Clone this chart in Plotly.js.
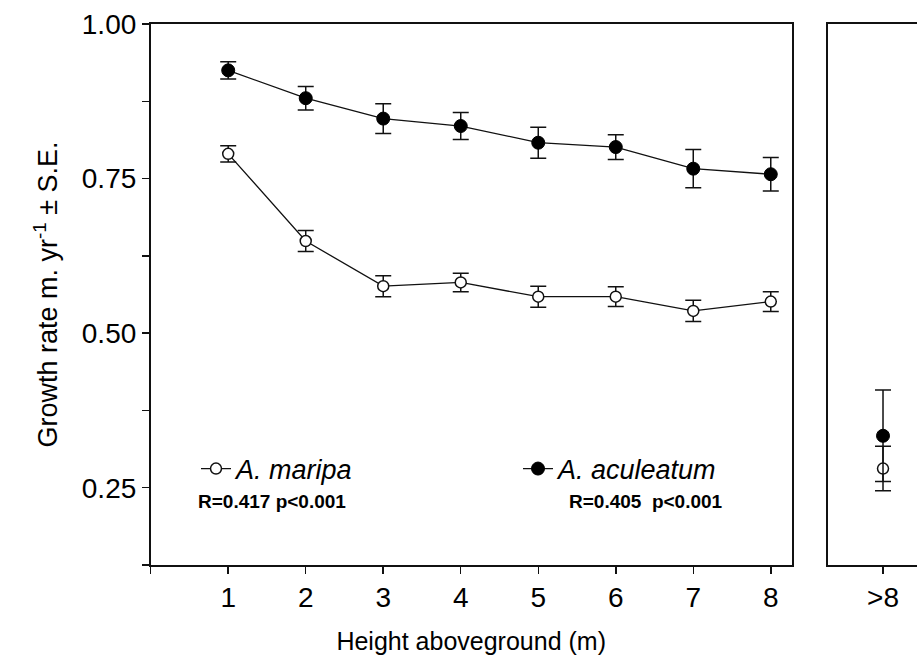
<!DOCTYPE html>
<html>
<head>
<meta charset="utf-8">
<script src="https://cdn.plot.ly/plotly-3.0.1.min.js"></script>
<style>html,body{margin:0;padding:0;background:#fff;overflow:hidden;}#chart{width:917px;height:671px;}</style>
</head>
<body>
<div id="chart"></div>
<script>
// Data
const heights = [1, 2, 3, 4, 5, 6, 7, 8];
const maripaMean = [0.790, 0.649, 0.576, 0.582, 0.559, 0.559, 0.536, 0.551];
const maripaSE   = [0.013, 0.017, 0.017, 0.015, 0.017, 0.016, 0.017, 0.016];
const aculeatumMean = [0.925, 0.880, 0.847, 0.835, 0.808, 0.801, 0.766, 0.757];
const aculeatumSE   = [0.014, 0.019, 0.024, 0.022, 0.025, 0.020, 0.031, 0.027];
const tallCategory = ['>8'];
const tallMaripaMean = [0.281];
const tallMaripaSE = [0.036];
const tallAculeatumMean = [0.334];
const tallAculeatumSE = [0.074];
const yTickVals = [0.125, 0.25, 0.375, 0.5, 0.625, 0.75, 0.875, 1.0];
const yTickText = ['', '0.25', '', '0.50', '', '0.75', '', '1.00'];
const xTickVals = [0, 1, 2, 3, 4, 5, 6, 7, 8];
const xTickText = ['', '1', '2', '3', '4', '5', '6', '7', '8'];
const seriesNames = ['A. maripa', 'A. aculeatum'];
const statText = ['R=0.417 p<0.001', 'R=0.405  p<0.001'];

const W = 917, H = 671;
const px = v => v / W, py = v => 1 - v / H;
const FONT = 'Liberation Sans, Arial, sans-serif';
const ink = '#111';

const errStyle = {type: 'data', visible: true, color: ink, thickness: 1.5, width: 8};
const openMarker = {symbol: 'circle', size: 11, color: '#fff', line: {color: ink, width: 1.5}};
const fullMarker = {symbol: 'circle', size: 13, color: '#000', line: {color: '#000', width: 1}};

const traces = [
  {x: heights, y: maripaMean, name: seriesNames[0], type: 'scatter', mode: 'lines+markers',
   line: {color: ink, width: 1.3}, marker: openMarker,
   error_y: Object.assign({array: maripaSE}, errStyle), xaxis: 'x', yaxis: 'y'},
  {x: heights, y: aculeatumMean, name: seriesNames[1], type: 'scatter', mode: 'lines+markers',
   line: {color: ink, width: 1.3}, marker: fullMarker,
   error_y: Object.assign({array: aculeatumSE}, errStyle), xaxis: 'x', yaxis: 'y'},
  {x: [1], y: tallMaripaMean, type: 'scatter', mode: 'markers', showlegend: false,
   marker: openMarker, error_y: Object.assign({array: tallMaripaSE}, errStyle),
   xaxis: 'x2', yaxis: 'y2', name: seriesNames[0]},
  {x: [1], y: tallAculeatumMean, type: 'scatter', mode: 'markers', showlegend: false,
   marker: fullMarker, error_y: Object.assign({array: tallAculeatumSE}, errStyle),
   xaxis: 'x2', yaxis: 'y2', name: seriesNames[1]}
];

const axisCommon = {showgrid: false, zeroline: false, showline: true, linecolor: ink, linewidth: 1.8,
  ticks: 'outside', ticklen: 7, tickwidth: 1.5, tickcolor: ink,
  tickfont: {family: FONT, size: 28, color: '#000'}};

const layout = {
  width: W, height: H,
  margin: {l: 0, r: 0, t: 0, b: 0},
  paper_bgcolor: '#fff', plot_bgcolor: '#fff',
  font: {family: FONT, color: '#000'},
  xaxis: Object.assign({}, axisCommon, {
    domain: [px(150.7), px(791.7)], range: [0, 8.27], mirror: true,
    tickvals: xTickVals, ticktext: xTickText, anchor: 'y',
    title: {text: 'Height aboveground (m)', font: {family: FONT, size: 25}, standoff: 20}
  }),
  yaxis: Object.assign({}, axisCommon, {
    domain: [py(565), py(24)], range: [0.125, 1.0], mirror: true,
    tickvals: yTickVals, ticktext: yTickText, anchor: 'x',
    title: {text: 'Growth rate m. yr<sup>-1</sup> ± S.E.', font: {family: FONT, size: 27}, standoff: 16}
  }),
  xaxis2: Object.assign({}, axisCommon, {
    domain: [px(828), 1], range: [0, 1.618], mirror: true,
    tickvals: [1], ticktext: tallCategory, anchor: 'y2'
  }),
  yaxis2: Object.assign({}, axisCommon, {
    domain: [py(565), py(24)], range: [0.125, 1.0], mirror: false,
    ticks: '', showticklabels: false, anchor: 'x2'
  }),
  showlegend: true,
  legend: {orientation: 'h', x: px(196), y: py(469), xanchor: 'left', yanchor: 'middle',
    bgcolor: 'rgba(0,0,0,0)', font: {family: FONT, size: 27, style: 'italic', color: '#000'},
    itemwidth: 30, entrywidth: 277, tracegroupgap: 0, traceorder: 'normal'},
  annotations: [
    {xref: 'paper', yref: 'paper', x: px(272), y: py(502), xanchor: 'center', yanchor: 'middle',
     text: '<b>' + statText[0] + '</b>', showarrow: false, font: {family: FONT, size: 19, color: '#000'}},
    {xref: 'paper', yref: 'paper', x: px(646), y: py(502), xanchor: 'center', yanchor: 'middle',
     text: '<b>' + statText[1] + '</b>', showarrow: false, font: {family: FONT, size: 19, color: '#000'}}
  ]
};

Plotly.newPlot('chart', traces, layout, {displayModeBar: false, staticPlot: true});
</script>
</body>
</html>
